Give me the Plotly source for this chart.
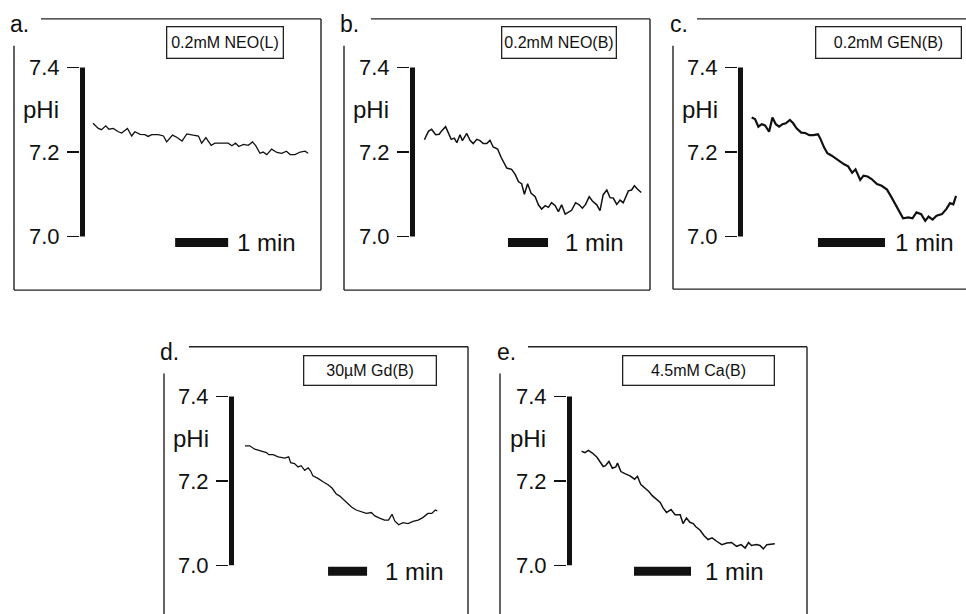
import plotly.graph_objects as go

W, H = 966, 614

# ---------------- data (time in min, pHi) ----------------
a_t = [0.0, 0.10, 0.16, 0.24, 0.30, 0.38, 0.48, 0.54, 0.65, 0.73, 0.79, 0.89, 0.98, 1.04, 1.11, 1.23, 1.33, 1.39, 1.50, 1.58,
       1.68, 1.77, 1.89, 1.99, 2.05, 2.13, 2.23, 2.30, 2.43, 2.55, 2.62, 2.69, 2.75, 2.84, 2.93, 3.01, 3.07, 3.15, 3.21, 3.28,
       3.37, 3.47, 3.56, 3.65, 3.72, 3.81, 3.91, 4.00, 4.06]
a_ph = [7.268, 7.256, 7.253, 7.262, 7.254, 7.256, 7.248, 7.245, 7.256, 7.238, 7.248, 7.242, 7.241, 7.237, 7.241, 7.241, 7.238, 7.224, 7.240, 7.235,
        7.226, 7.243, 7.240, 7.238, 7.221, 7.234, 7.216, 7.221, 7.221, 7.221, 7.215, 7.221, 7.213, 7.218, 7.216, 7.224, 7.215, 7.197, 7.200, 7.194,
        7.207, 7.199, 7.197, 7.202, 7.194, 7.194, 7.200, 7.202, 7.197]

b_t = [0.01, 0.11, 0.19, 0.29, 0.38, 0.44, 0.54, 0.61, 0.68, 0.76, 0.82, 0.90, 0.96, 1.07, 1.15, 1.23, 1.32, 1.40, 1.48, 1.57,
       1.65, 1.73, 1.84, 1.93, 1.98, 2.07, 2.19, 2.28, 2.36, 2.44, 2.51, 2.59, 2.68, 2.78, 2.86, 2.94, 3.03, 3.11, 3.19, 3.28,
       3.36, 3.44, 3.53, 3.61, 3.69, 3.79, 3.88, 3.96, 4.04, 4.13, 4.21, 4.32, 4.40, 4.48, 4.57, 4.65, 4.73, 4.82, 4.90, 4.98,
       5.11, 5.19, 5.26, 5.34, 5.43]
b_ph = [7.229, 7.249, 7.254, 7.241, 7.242, 7.250, 7.260, 7.246, 7.230, 7.233, 7.222, 7.241, 7.227, 7.244, 7.228, 7.220, 7.230, 7.227, 7.220, 7.220,
        7.228, 7.212, 7.207, 7.187, 7.179, 7.162, 7.159, 7.147, 7.130, 7.125, 7.100, 7.125, 7.102, 7.094, 7.075, 7.065, 7.073, 7.069, 7.080, 7.073,
        7.059, 7.075, 7.053, 7.057, 7.062, 7.080, 7.075, 7.067, 7.076, 7.094, 7.084, 7.075, 7.061, 7.099, 7.110, 7.092, 7.091, 7.076, 7.086, 7.080,
        7.108, 7.110, 7.120, 7.112, 7.104]

c_t = [0.01, 0.06, 0.11, 0.16, 0.21, 0.27, 0.32, 0.37, 0.42, 0.47, 0.52, 0.58, 0.63, 0.68, 0.75, 0.81, 0.87, 0.93, 1.00, 1.04,
       1.09, 1.14, 1.20, 1.26, 1.33, 1.39, 1.45, 1.51, 1.56, 1.63, 1.68, 1.74, 1.80, 1.88, 1.95, 2.03, 2.10, 2.17, 2.22, 2.27,
       2.35, 2.41, 2.47, 2.54, 2.60, 2.65, 2.71, 2.77, 2.85, 2.92, 2.97, 3.02, 3.06]
c_ph = [7.282, 7.278, 7.260, 7.266, 7.263, 7.248, 7.282, 7.266, 7.260, 7.266, 7.268, 7.276, 7.268, 7.256, 7.246, 7.245, 7.240, 7.240, 7.242, 7.230,
        7.211, 7.197, 7.192, 7.185, 7.177, 7.171, 7.166, 7.151, 7.159, 7.134, 7.144, 7.142, 7.136, 7.124, 7.120, 7.111, 7.092, 7.073, 7.057, 7.043,
        7.045, 7.043, 7.057, 7.053, 7.037, 7.047, 7.040, 7.049, 7.053, 7.066, 7.079, 7.076, 7.096]

d_t = [0.0, 0.12, 0.25, 0.42, 0.55, 0.61, 0.72, 0.85, 1.02, 1.12, 1.17, 1.27, 1.36, 1.44, 1.53, 1.62, 1.68, 1.74, 1.87, 2.00,
       2.13, 2.23, 2.34, 2.43, 2.51, 2.60, 2.73, 2.85, 2.98, 3.11, 3.24, 3.33, 3.45, 3.58, 3.68, 3.77, 3.84, 3.94, 4.05, 4.18,
       4.31, 4.44, 4.56, 4.69, 4.79, 4.88, 4.93]
d_ph = [7.283, 7.283, 7.275, 7.271, 7.267, 7.262, 7.262, 7.257, 7.254, 7.257, 7.243, 7.241, 7.233, 7.236, 7.225, 7.231, 7.224, 7.212, 7.206, 7.198,
        7.191, 7.183, 7.169, 7.164, 7.157, 7.151, 7.138, 7.131, 7.127, 7.123, 7.125, 7.117, 7.112, 7.107, 7.107, 7.121, 7.105, 7.096, 7.101, 7.099,
        7.104, 7.107, 7.113, 7.123, 7.123, 7.131, 7.129]

e_t = [0.01, 0.07, 0.13, 0.20, 0.28, 0.33, 0.39, 0.43, 0.49, 0.55, 0.61, 0.64, 0.70, 0.77, 0.86, 0.94, 0.99, 1.05, 1.12, 1.19,
       1.25, 1.33, 1.39, 1.44, 1.50, 1.58, 1.65, 1.74, 1.79, 1.85, 1.91, 1.97, 2.01, 2.09, 2.16, 2.23, 2.30, 2.38, 2.47, 2.56,
       2.64, 2.73, 2.81, 2.88, 2.94, 2.99, 3.08, 3.14, 3.20, 3.26, 3.35, 3.40]
e_ph = [7.270, 7.267, 7.272, 7.266, 7.256, 7.246, 7.234, 7.236, 7.246, 7.230, 7.233, 7.242, 7.222, 7.217, 7.212, 7.204, 7.211, 7.191, 7.183, 7.175,
        7.165, 7.156, 7.149, 7.136, 7.125, 7.132, 7.120, 7.120, 7.099, 7.112, 7.102, 7.099, 7.092, 7.083, 7.070, 7.061, 7.065, 7.057, 7.049, 7.053,
        7.054, 7.045, 7.049, 7.041, 7.054, 7.047, 7.049, 7.047, 7.039, 7.049, 7.051, 7.051]

panel_letters = ["a.", "b.", "c.", "d.", "e."]
condition_labels = ["0.2mM NEO(L)", "0.2mM NEO(B)", "0.2mM GEN(B)", "30µM Gd(B)", "4.5mM Ca(B)"]
scale_bar_start = [1.55, 2.10, 1.00, 2.13, 0.93]   # min
scale_bar_len = 1.0                                 # min
scale_bar_label = "1 min"
y_ticks = [7.0, 7.2, 7.4]
y_tick_text = ["7.0", "7.2", "7.4"]
y_title = "pHi"
series_t = [a_t, b_t, c_t, d_t, e_t]
series_ph = [a_ph, b_ph, c_ph, d_ph, e_ph]

# ---------------- layout geometry (pixels) ----------------
geo = [
    dict(L=80, R=318, xs=93, ppm=53, y74=64, y70=234, box=(166, 284, 22, 55), let=(8, 20), phi=(21, 106),
         shift=7, lw=1.3,
         frame=[(41, 15, 321, 15), (321, 15, 321, 288), (14, 288, 321, 288), (14, 42, 14, 288)]),
    dict(L=410, R=648, xs=424, ppm=40, y74=64, y70=234, box=(501, 617, 22, 55), let=(338, 20), phi=(351, 106),
         shift=15, lw=1.5,
         frame=[(371, 15, 650, 15), (650, 15, 650, 288), (344, 288, 650, 288), (344, 42, 344, 288)]),
    dict(L=738, R=962, xs=751, ppm=67, y74=64, y70=234, box=(815, 962, 22, 55), let=(668, 20), phi=(680, 106),
         shift=8, lw=2.2,
         frame=[(697, 15, 966, 15), (673, 287, 966, 287), (673, 42, 673, 287)]),
    dict(L=229, R=445, xs=245, ppm=39, y74=395, y70=565, box=(303, 437, 353, 384), let=(158, 350), phi=(171, 437),
         shift=16, lw=1.3,
         frame=[(189, 345, 468, 345), (468, 345, 468, 614), (164, 372, 164, 614)]),
    dict(L=567, R=790, xs=581, ppm=57, y74=395, y70=565, box=(622, 775, 353, 384), let=(495, 350), phi=(508, 437),
         shift=12, lw=1.5,
         frame=[(528, 345, 807, 345), (807, 345, 807, 614), (500, 372, 500, 614)]),
]

YMIN, YMAX = 6.95, 7.42
SB_Y = 6.986
FONT = "Liberation Sans, Arial, Helvetica, sans-serif"
INK = "#111111"

def xp(px):
    return px / W

def yp(py):
    return 1 - py / H

fig = go.Figure()
shapes = []
annotations = []
layout_axes = {}

for i, g in enumerate(geo):
    n = "" if i == 0 else str(i + 1)
    xa, ya = "x" + n, "y" + n
    ppu = (g["y70"] - g["y74"]) / 0.4
    yb = g["y70"] + (7.0 - YMIN) * ppu
    yt = g["y74"] - (YMAX - 7.4) * ppu
    xr = [(g["L"] - g["xs"]) / g["ppm"], (g["R"] - g["xs"]) / g["ppm"]]

    layout_axes["xaxis" + n] = dict(domain=[xp(g["L"]), xp(g["R"])], range=xr, visible=False,
                                    anchor=ya, fixedrange=True)
    layout_axes["yaxis" + n] = dict(domain=[yp(yb), yp(yt)], range=[YMIN, YMAX], anchor=xa,
                                    tickvals=y_ticks, ticktext=y_tick_text, ticks="outside",
                                    ticklen=12, tickwidth=1.5, tickcolor=INK, showline=False,
                                    showgrid=False, zeroline=False, ticklabelstandoff=3,
                                    tickfont=dict(size=22, color=INK, family=FONT), fixedrange=True)

    fig.add_trace(go.Scatter(x=series_t[i], y=series_ph[i], mode="lines", xaxis=xa, yaxis=ya,
                             line=dict(color=INK, width=g["lw"]), showlegend=False, hoverinfo="skip"))

    half = 2.5 / (g["R"] - g["L"])
    shapes.append(dict(type="line", xref=xa + " domain", yref=ya, x0=half, x1=half, y0=7.0, y1=7.4,
                       line=dict(color=INK, width=5)))
    t0 = scale_bar_start[i]
    shapes.append(dict(type="line", xref=xa, yref=ya, x0=t0, x1=t0 + scale_bar_len, y0=SB_Y, y1=SB_Y,
                       line=dict(color=INK, width=9)))
    annotations.append(dict(xref=xa, yref=ya, x=t0 + scale_bar_len, y=SB_Y, xshift=g["shift"],
                            text=scale_bar_label, showarrow=False, xanchor="left", yanchor="middle",
                            font=dict(size=24, color=INK, family=FONT)))
    for (x0, y0, x1, y1) in g["frame"]:
        shapes.append(dict(type="line", xref="paper", yref="paper", x0=xp(x0), y0=yp(y0), x1=xp(x1), y1=yp(y1),
                           line=dict(color="#222222", width=1.4)))
    bx0, bx1, by0, by1 = g["box"]
    annotations.append(dict(xref="paper", yref="paper", x=xp((bx0 + bx1) / 2), y=yp((by0 + by1) / 2),
                            xanchor="center", yanchor="middle", text=condition_labels[i], showarrow=False,
                            width=bx1 - bx0 - 2.6, height=by1 - by0 - 2.6, borderpad=0,
                            bordercolor="#222222", borderwidth=1.3, bgcolor="white",
                            font=dict(size=16, color=INK, family=FONT)))
    annotations.append(dict(xref="paper", yref="paper", x=xp(g["let"][0]), y=yp(g["let"][1]),
                            xanchor="left", yanchor="middle", text=panel_letters[i], showarrow=False,
                            font=dict(size=23, color=INK, family=FONT)))
    annotations.append(dict(xref="paper", yref="paper", x=xp(g["phi"][0]), y=yp(g["phi"][1]),
                            xanchor="left", yanchor="middle", text=y_title, showarrow=False,
                            font=dict(size=24, color=INK, family=FONT)))

fig.update_layout(width=W, height=H, margin=dict(l=0, r=0, t=0, b=0), paper_bgcolor="white",
                  plot_bgcolor="rgba(0,0,0,0)", shapes=shapes, annotations=annotations,
                  font=dict(family=FONT, color=INK), **layout_axes)

fig.write_html("out.html", config={"displayModeBar": False, "staticPlot": True},
               post_script="document.body.style.margin='0px';document.body.style.overflow='hidden';")
